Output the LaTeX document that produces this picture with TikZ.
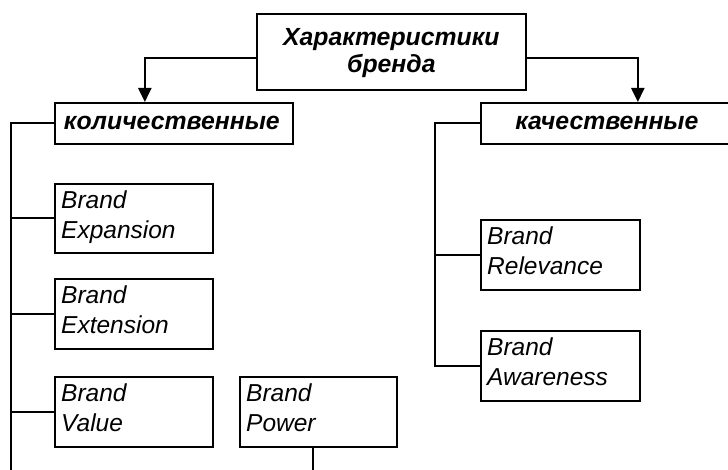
\documentclass[tikz,border=0pt]{standalone}
\usepackage{fontspec}
\setmainfont{Liberation Sans}
\usetikzlibrary{arrows.meta}
\tikzset{
  frame/.style={draw, line width=1.7pt, anchor=north west, inner sep=0pt},
  head/.style={font=\bfseries\itshape\fontsize{24.8}{27}\selectfont, align=center, inner sep=0pt},
  item/.style={font=\itshape\fontsize{24.5}{29.5}\selectfont, align=left, anchor=north west, inner sep=0pt},
  link/.style={line width=1.7pt},
  feed/.style={line width=2.4pt, -{Triangle[length=14pt,width=13pt]}},
}
\begin{document}
\begin{tikzpicture}[x=1pt,y=-1pt]
\useasboundingbox (0,0) rectangle (728,470);

% root
\node[frame, minimum width=269, minimum height=76] (root) at (256,13) {};
\node[head] (root-t) at ([yshift=-1pt]root.center) {Характеристики\\бренда};

% two groups
\node[frame, minimum width=238, minimum height=41] (qty) at (54,102) {};
\node[head] (qty-t) at ([xshift=-2pt]qty.center) {количественные};
\node[frame, minimum width=252, minimum height=41] (qual) at (480,102) {};
\node[head] (qual-t) at (qual.center) {качественные};

% quantitative items
\node[frame, minimum width=158, minimum height=69] (exp) at (54,183) {};
\node[item] (exp-t) at ([xshift=7pt,yshift=-8pt]exp.north west) {Brand\\Expansion};
\node[frame, minimum width=158, minimum height=70] (ext) at (54,278) {};
\node[item] (ext-t) at ([xshift=7pt,yshift=-8pt]ext.north west) {Brand\\Extension};
\node[frame, minimum width=158, minimum height=70] (val) at (54,376) {};
\node[item] (val-t) at ([xshift=7pt,yshift=-8pt]val.north west) {Brand\\Value};
\node[frame, minimum width=157, minimum height=70] (pow) at (239,376) {};
\node[item] (pow-t) at ([xshift=7pt,yshift=-8pt]pow.north west) {Brand\\Power};

% qualitative items
\node[frame, minimum width=159, minimum height=70] (rel) at (480,219) {};
\node[item] (rel-t) at ([xshift=7pt,yshift=-8pt]rel.north west) {Brand\\Relevance};
\node[frame, minimum width=159, minimum height=70] (awa) at (480,330) {};
\node[item] (awa-t) at ([xshift=7pt,yshift=-8pt]awa.north west) {Brand\\Awareness};

% bus lines
\coordinate (lbus) at (11,474);
\coordinate (rbus) at (435,0);
\coordinate (pend) at (313,474);

\draw[feed] ([yshift=-6pt]root.west) -| ([xshift=-29pt]qty.north);
\draw[feed] ([yshift=-6pt]root.east) -| ([xshift=31pt]qual.north);

\draw[link] (qty.west) -| (lbus);
\draw[link] (exp.west) -- (exp.west -| lbus);
\draw[link] (ext.west) -- (ext.west -| lbus);
\draw[link] (val.west) -- (val.west -| lbus);
\draw[link] (pow.south -| pend) -- (pend);

\draw[link] (qual.west) -| (rbus |- awa.west) -- (awa.west);
\draw[link] (rel.west) -- (rel.west -| rbus);
\end{tikzpicture}
\end{document}
